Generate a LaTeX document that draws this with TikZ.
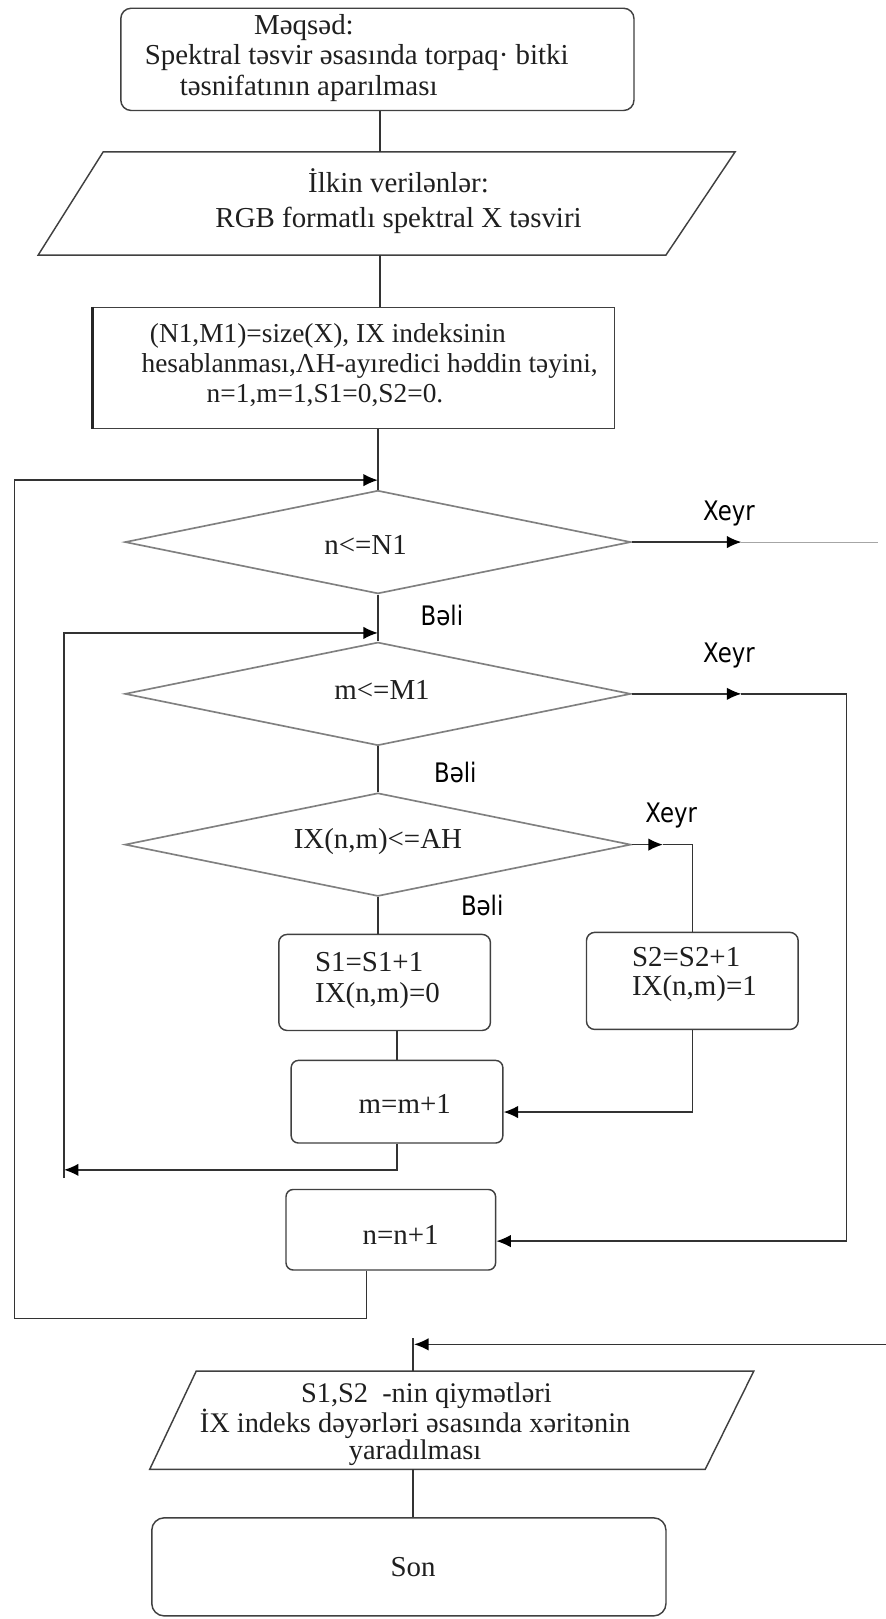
\documentclass[tikz,border=0pt]{standalone}
\usepackage{fontspec}
\setmainfont{Liberation Serif}
\newfontfamily\lblfont{DejaVu Sans}
\usetikzlibrary{arrows.meta,shapes.geometric}
\newcommand\lbtxt[1]{\scalebox{0.85}[1]{#1}}
\begin{document}
\begin{tikzpicture}[x=1pt,y=-1pt,
  line/.style={draw=black!80, line width=1.4pt},
  arr/.style={line, -{Latex[length=14pt,width=12pt,fill=black,color=black]}},
  box/.style={draw=black!75, line width=1.4pt, rounded corners=#1, inner sep=0pt},
  box/.default=8pt,
  dia/.style={draw=black!50, line width=1.6pt, shape=diamond, inner sep=0pt,
              minimum width=490pt, minimum height=100pt},
  txt/.style={font=\fontsize{28}{30}\selectfont, inner sep=0pt, text=black!88},
  lbl/.style={font=\lblfont\fontsize{26}{28}\selectfont, inner sep=0pt, text=black},
]
\useasboundingbox (0,0) rectangle (858,1568);
\fill[white] (0,0) rectangle (858,1568);

% ---------- goal box ----------
\node[box=10pt, minimum width=497pt, minimum height=99pt] (goal) at (365.5,57.5) {};
\node[txt, anchor=west, align=left, font=\fontsize{28}{29.5}\selectfont] (goalt) at (140,56)
  {\hspace*{106pt}Məqsəd:\\Spektral təsvir əsasında torpaq· bitki\\\hspace*{34pt}təsnifatının aparılması};

% ---------- input parallelogram ----------
\coordinate (inN) at (368,147);
\coordinate (inS) at (368,247);
\draw[line, draw=black!75] (100,147) -- (712,147) -- (645,247) -- (37,247) -- cycle;
\node[txt, align=center, font=\fontsize{28}{34}\selectfont] (inpt) at (386,195)
  {İlkin verilənlər:\\RGB formatlı spektral X təsviri};

% ---------- init box ----------
\node[box=0pt, minimum width=505pt, minimum height=117pt] (init) at (342.5,356.5) {};
\draw[line width=3.2pt, black!85] (init.north west) -- (init.south west);
\node[txt, anchor=west, align=left, font=\fontsize{26.5}{29}\selectfont] (initt) at (137,354)
  {\hspace*{8pt}(N1,M1)=size(X), IX indeksinin\\hesablanması,ΛH-ayıredici həddin təyini,\\\hspace*{63pt}n=1,m=1,S1=0,S2=0.};

% ---------- decisions ----------
\node[dia] (d1) at (366,525) {};
\node[txt] (d1t) at (354,528) {n<=N1};
\node[dia] (d2) at (366,672) {};
\node[txt] (d2t) at (370,668) {m<=M1};
\node[dia] (d3) at (366,818) {};
\node[txt] (d3t) at (366,815) {IX(n,m)<=AH};

% ---------- process boxes ----------
\node[box=8pt, minimum width=205pt, minimum height=93pt] (s1) at (372.5,951.5) {};
\node[txt, anchor=west, align=left, font=\fontsize{28}{30}\selectfont] (s1t) at (305,950) {S1=S1+1\\IX(n,m)=0};
\node[box=8pt, minimum width=205pt, minimum height=94pt] (s2) at (670.5,950) {};
\node[txt, anchor=west, align=left, font=\fontsize{28}{28}\selectfont] (s2t) at (612,944) {S2=S2+1\\IX(n,m)=1};
\node[box=7pt, minimum width=205pt, minimum height=80pt] (mm) at (384.5,1067) {};
\node[txt] (mmt) at (392,1069) {m=m+1};
\node[box=7pt, minimum width=203pt, minimum height=78pt] (nn) at (378.5,1191) {};
\node[txt] (nnt) at (388,1196) {n=n+1};

% ---------- output parallelogram ----------
\coordinate (outN) at (400,1328);
\coordinate (outS) at (400,1423);
\draw[line, draw=black!75] (190,1328) -- (730,1328) -- (683,1423) -- (145,1423) -- cycle;
\node[txt, align=center, font=\fontsize{27.5}{25.5}\selectfont] (outt) at (402,1379)
  {\hspace*{22pt}S1,S2\ \ -nin qiymətləri\\İX indeks dəyərləri əsasında xəritənin\\yaradılması};

% ---------- end box ----------
\node[box=12pt, minimum width=498pt, minimum height=95pt] (son) at (396,1517.5) {};
\node[txt] (sont) at (400,1518) {Son};

% ---------- labels ----------
\node[lbl] (x1l) at (706,497) {\lbtxt{Xeyr}};
\node[lbl] (b1l) at (428,596) {\lbtxt{Bəli}};
\node[lbl] (x2l) at (706,635) {\lbtxt{Xeyr}};
\node[lbl] (b2l) at (441,748) {\lbtxt{Bəli}};
\node[lbl] (x3l) at (650,790) {\lbtxt{Xeyr}};
\node[lbl] (b3l) at (467,877) {\lbtxt{Bəli}};

% ---------- helper coordinates ----------
\coordinate (j1) at (366,465);
\coordinate (j2) at (366,613);
\coordinate (o1) at (355,1277);
\coordinate (o2) at (14,1277);
\coordinate (l2a) at (62,1133);
\coordinate (l2b) at (62,1141);
\coordinate (x1a) at (718,525);
\coordinate (x1b) at (850,525);
\coordinate (x2a) at (718,672);
\coordinate (r2) at (820,672);
\coordinate (x3a) at (642,818);
\coordinate (f1) at (858,1302);
\coordinate (j3) at (401,1302);
\coordinate (j3t) at (400,1296);

% ---------- connectors ----------
\draw[line] (goal.south -| inN) -- (inN);
\draw[line] (inS) -- (inS |- init.north);
\draw[line] (init.south -| d1.north) -- (d1.north);
\draw[line] (d1.south) -- (d2.north);
\draw[line] (d2.south) -- (d3.north);
\draw[line] (d3.south) -- (d3.south |- s1.north);
\draw[line] (mm.north |- s1.south) -- (mm.north);

\draw[arr] (d1.east) -- (x1a);
\draw[draw=black!35, line width=1.1pt] (x1a) -- (x1b);

\draw[arr] (d2.east) -- (x2a);
\draw[arr] (x2a) -- (r2) |- ([yshift=-11pt]nn.east);

\draw[arr] (d3.east) -- (x3a);
\draw[line] (x3a) -| (s2.north);

\draw[arr] (s2.south) |- ([yshift=-10pt]mm.east);

\draw[arr] (mm.south) |- (l2a);
\draw[arr] (l2b) |- (j2);

\draw[arr] (nn.south -| o1) -- (o1) -- (o2) |- (j1);

\draw[arr] (f1) -- (j3);
\draw[line] (j3t) -- (outN);
\draw[line] (outS) -- (outS |- son.north);
\end{tikzpicture}
\end{document}
